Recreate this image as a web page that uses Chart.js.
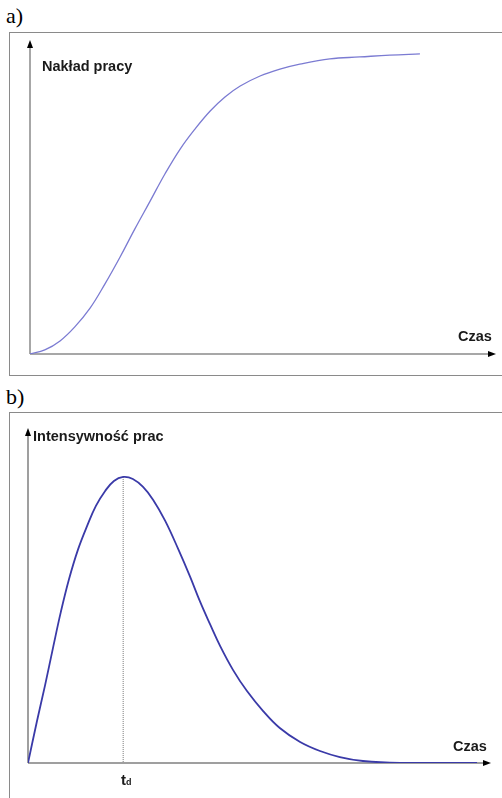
<!DOCTYPE html>
<html>
<head>
<meta charset="utf-8">
<script src="https://cdn.jsdelivr.net/npm/chart.js@4/dist/chart.umd.min.js"></script>
<style>
  html, body { margin: 0; padding: 0; background: #fff; }
  body { width: 502px; height: 798px; position: relative; overflow: hidden; }
  .box { position: absolute; border: 1px solid #8a8a8a; box-sizing: border-box; }
  .lbl { position: absolute; font-family: "Times New Roman", "Liberation Serif", serif; font-size: 22px; color: #000; line-height: 1; }
  .txt { position: absolute; font-family: Arial, "Liberation Sans", sans-serif; font-size: 14.5px; font-weight: bold; color: #1a1a1a; line-height: 1; white-space: nowrap; }
  canvas { position: absolute; left: 0; }
</style>
</head>
<body>
<div class="lbl" style="left:6px; top:5px;">a)</div>
<div class="box" style="left:9px; top:32px; width:500px; height:344px;"></div>
<div class="lbl" style="left:6px; top:386px;">b)</div>
<div class="box" style="left:9px; top:412px; width:500px; height:400px;"></div>

<div style="position:absolute; left:0; top:32px; width:502px; height:343px;"><canvas id="chartA"></canvas></div>
<div style="position:absolute; left:0; top:412px; width:502px; height:386px;"><canvas id="chartB"></canvas></div>

<div class="txt" style="left:42px; top:59px;">Nakład pracy</div>
<div class="txt" style="left:458px; top:329px;">Czas</div>
<div class="txt" style="left:33px; top:429px;">Intensywność prac</div>
<div class="txt" style="left:453px; top:739px;">Czas</div>
<div class="txt" style="left:121px; top:772px; font-size:15px;">t<span style="font-size:9px;">d</span></div>

<script>
// a) nakład pracy w czasie (krzywa S)
const czasA = [0, 3.2, 6.5, 9.7, 13.0, 16.2, 19.5, 22.7, 26.0, 29.2, 32.5, 35.7, 39.0, 42.2, 45.5, 49.8, 54.1, 58.4, 64.9, 71.4, 77.9, 84.4];
const nakladPracy = [0, 1.3, 4.2, 8.7, 14.7, 22.4, 31.1, 40.1, 49.0, 57.7, 65.7, 72.1, 77.9, 82.4, 85.9, 89.1, 91.3, 92.9, 94.6, 95.2, 95.8, 96.2];

// b) intensywność prac w czasie
const czasB = [0, 1.9, 3.7, 5.4, 7.1, 8.9, 10.8, 12.8, 14.7, 16.7, 18.6, 20.6, 22.7, 24.9, 27.1, 29.7, 32.5, 35.1, 37.2, 39.4, 41.6, 44.4, 47.4, 50.9, 54.5, 58.9, 63.2, 67.5, 72.5, 80.5, 97.2];
const intensywnosc = [0, 12.3, 23.4, 34.5, 45.3, 55.3, 64.0, 71.2, 77.2, 81.7, 84.7, 85.9, 85.3, 82.9, 79.0, 72.7, 64.3, 55.9, 48.6, 41.7, 35.1, 27.9, 21.6, 15.6, 10.5, 6.3, 3.6, 1.8, 0.6, 0, 0];
const tD = 20.6;

function toPoints(xs, ys) {
    return xs.map((x, i) => ({ x: x, y: ys[i] }));
}

// osie ze strzałkami (+ linia kropkowana dla t_d)
function axesPlugin(color, width, tipX, tipY, dotted) {
    return {
        id: 'axes',
        beforeDatasetsDraw(chart) {
            const ctx = chart.ctx;
            const xs = chart.scales.x, ys = chart.scales.y;
            const x0 = xs.getPixelForValue(0), y0 = ys.getPixelForValue(0);
            ctx.save();
            ctx.strokeStyle = color;
            ctx.fillStyle = '#000';
            ctx.lineWidth = width;
            ctx.beginPath();
            ctx.moveTo(x0, y0);
            ctx.lineTo(x0, tipY + 6);
            ctx.moveTo(x0, y0);
            ctx.lineTo(tipX - 6, y0);
            ctx.stroke();
            ctx.beginPath();
            ctx.moveTo(x0, tipY);
            ctx.lineTo(x0 - 3, tipY + 8);
            ctx.lineTo(x0 + 3, tipY + 8);
            ctx.closePath();
            ctx.fill();
            ctx.beginPath();
            ctx.moveTo(tipX, y0);
            ctx.lineTo(tipX - 8, y0 - 3);
            ctx.lineTo(tipX - 8, y0 + 3);
            ctx.closePath();
            ctx.fill();
            if (dotted) {
                const peak = Math.max(...intensywnosc);
                const px = xs.getPixelForValue(tD);
                ctx.strokeStyle = '#777';
                ctx.lineWidth = 1;
                ctx.setLineDash([1, 1]);
                ctx.beginPath();
                ctx.moveTo(px, ys.getPixelForValue(peak));
                ctx.lineTo(px, y0);
                ctx.stroke();
            }
            ctx.restore();
        }
    };
}

function baseOptions(padding) {
    return {
        responsive: true,
        maintainAspectRatio: false,
        animation: false,
        layout: { padding: padding },
        plugins: { legend: { display: false }, tooltip: { enabled: false } },
        scales: {
            x: { type: 'linear', min: 0, max: 100, display: false },
            y: { type: 'linear', min: 0, max: 100, display: false }
        }
    };
}

new Chart(document.getElementById('chartA'), {
    type: 'line',
    data: {
        datasets: [{
            data: toPoints(czasA, nakladPracy),
            borderColor: '#7b7bd2',
            borderWidth: 1.3,
            pointRadius: 0,
            fill: false,
            tension: 0.4
        }]
    },
    options: baseOptions({ left: 30, right: 10, top: 10, bottom: 21 }),
    plugins: [axesPlugin('#8a8a8a', 1.5, 496, 8, false)]
});

new Chart(document.getElementById('chartB'), {
    type: 'line',
    data: {
        datasets: [{
            data: toPoints(czasB, intensywnosc),
            borderColor: '#3a3aa8',
            borderWidth: 1.8,
            pointRadius: 0,
            fill: false,
            tension: 0.4
        }]
    },
    options: baseOptions({ left: 28, right: 12, top: 18, bottom: 35 }),
    plugins: [axesPlugin('#808080', 1.5, 491, 16, true)]
});
</script>
</body>
</html>
